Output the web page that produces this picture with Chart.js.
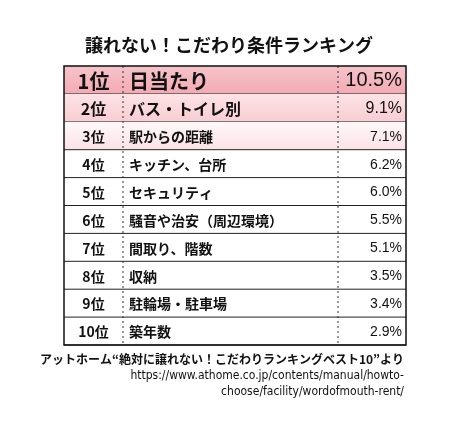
<!DOCTYPE html>
<html><head><meta charset="utf-8">
<script src="https://cdn.jsdelivr.net/npm/chart.js@4"></script>
<style>
body{margin:0;background:#fff;}
#wrap{width:458px;height:427px;position:relative;}
</style></head>
<body><div id="wrap"><canvas id="c" width="458" height="427"></canvas></div>
<script>
const ranks = ['1位','2位','3位','4位','5位','6位','7位','8位','9位','10位'];
const items = ['日当たり','バス・トイレ別','駅からの距離','キッチン、台所','セキュリティ','騒音や治安（周辺環境）','間取り、階数','収納','駐輪場・駐車場','築年数'];
const shares = [10.5, 9.1, 7.1, 6.2, 6.0, 5.5, 5.1, 3.5, 3.4, 2.9];
const title = '譲れない！こだわり条件ランキング';
const source = ['アットホーム“絶対に譲れない！こだわりランキングベスト10”より',
  'https://www.athome.co.jp/contents/manual/howto-',
  'choose/facility/wordofmouth-rent/'];

const FONT = '"Noto Sans CJK JP", "Noto Sans", sans-serif';

// Tabelle zeichnen (Zeilen aus der y-Skala)
const tablePlugin = {
  id: 'table',
  beforeDatasetsDraw(chart) {
    const {ctx, chartArea: a, scales: {y}} = chart;
    const h = y.getPixelForValue(1) - y.getPixelForValue(0);
    const col1 = a.left + 59, col2 = a.left + 274;
    ctx.save();
    ranks.forEach((r, i) => {
      const top = y.getPixelForValue(i) - h / 2;
      let g = null;
      if (i === 0) { g = ctx.createLinearGradient(0, top, 0, top + h); g.addColorStop(0, '#f6c4ca'); g.addColorStop(1, '#f3aab4'); }
      else if (i === 1) { g = ctx.createLinearGradient(0, top, 0, top + h); g.addColorStop(0, '#fde3e6'); g.addColorStop(1, '#f8cdd2'); }
      else if (i === 2) { g = ctx.createLinearGradient(0, top, 0, top + h); g.addColorStop(0, '#fff8f9'); g.addColorStop(1, '#fbe2e5'); }
      if (g) { ctx.fillStyle = g; ctx.fillRect(a.left, top, a.right - a.left, h); }
      ctx.strokeStyle = '#222'; ctx.lineWidth = 1;
      ctx.beginPath(); ctx.moveTo(a.left, top + h); ctx.lineTo(a.right, top + h); ctx.stroke();
    });
    ctx.setLineDash([2, 3]); ctx.strokeStyle = '#333';
    [col1, col2].forEach(x => { ctx.beginPath(); ctx.moveTo(x, a.top); ctx.lineTo(x, a.bottom); ctx.stroke(); });
    ctx.setLineDash([]); ctx.lineWidth = 1.5; ctx.strokeStyle = '#111';
    ctx.strokeRect(a.left, a.top, a.right - a.left, a.bottom - a.top);

    ctx.fillStyle = '#111'; ctx.textBaseline = 'middle';
    ranks.forEach((r, i) => {
      const cy = y.getPixelForValue(i) + 1;
      const big = i === 0 ? 20 : (i === 1 ? 16 : 14);
      ctx.font = 'bold ' + big + 'px ' + FONT;
      ctx.textAlign = 'center'; ctx.fillText(r, (a.left + col1) / 2, cy);
      ctx.textAlign = 'left'; ctx.fillText(items[i], col1 + 6, cy);
      ctx.font = (i === 0 ? '20px ' : i === 1 ? '16px ' : '14px ') + '"Liberation Sans", sans-serif';
      ctx.textAlign = 'right'; ctx.fillText(shares[i].toFixed(1) + '%', a.right - 4, cy);
    });

    ctx.textAlign = 'center'; ctx.font = 'bold 18px ' + FONT;
    ctx.fillText(title, 229, 45);
    ctx.textAlign = 'right'; ctx.font = 'bold 12px ' + FONT;
    ctx.fillText(source[0], 404, 359);
    ctx.font = '12px "DejaVu Sans Condensed", sans-serif';
    ctx.fillText(source[1], 404, 376);
    ctx.fillText(source[2], 404, 392);
    ctx.restore();
  }
};

new Chart(document.getElementById('c'), {
  type: 'bar',
  data: { labels: ranks, datasets: [{ data: shares, backgroundColor: 'rgba(0,0,0,0)' }] },
  options: {
    indexAxis: 'y', responsive: false, animation: false,
    layout: { padding: { left: 64, right: 52, top: 66, bottom: 82 } },
    scales: {
      x: { display: false, min: 0, max: 12 },
      y: { display: false }
    },
    plugins: { legend: { display: false }, tooltip: { enabled: false } }
  },
  plugins: [tablePlugin]
});
</script></body></html>
